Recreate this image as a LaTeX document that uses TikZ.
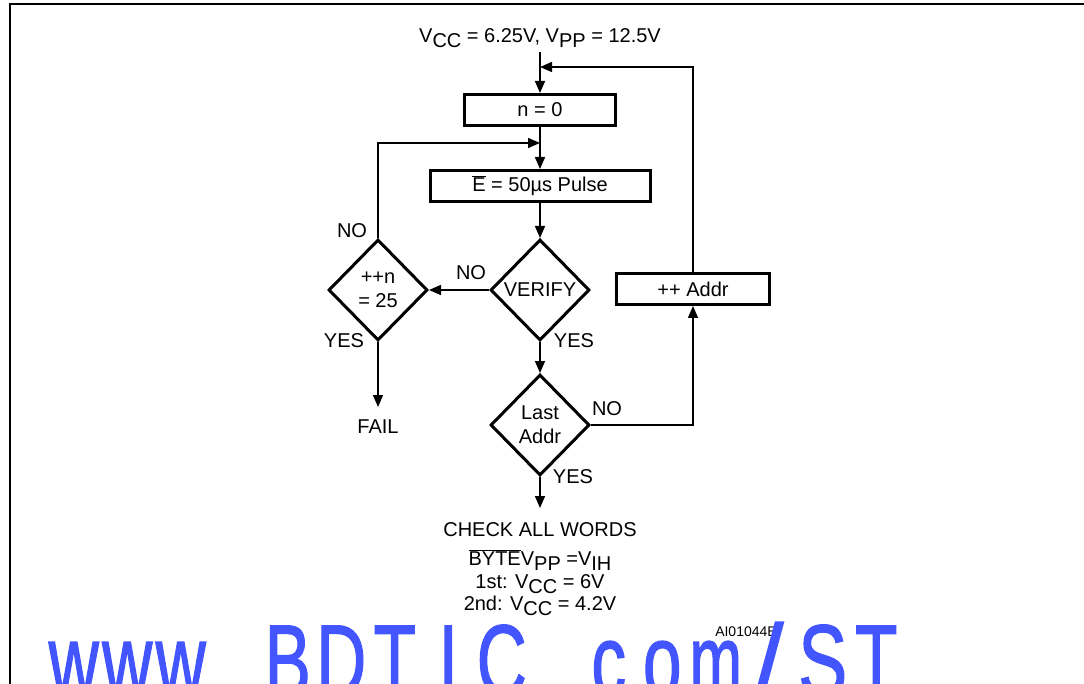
\documentclass[tikz,border=0pt]{standalone}
\usepackage{fontspec}
\setmainfont{Liberation Sans}
\newfontfamily\wmfont[FakeBold=1.5]{Liberation Sans}
\usetikzlibrary{positioning, arrows.meta, shapes.geometric}
\definecolor{cW}{RGB}{66,85,255}
\newcommand{\lo}[1]{\raisebox{-5pt}{#1}}

\begin{document}
\begin{tikzpicture}[x=1pt, y=-1pt,
    font=\fontsize{20}{24}\selectfont,
    box/.style={draw, line width=3pt, minimum height=31pt, inner sep=0pt},
    dia/.style={draw, diamond, line width=3pt, minimum width=99pt, minimum height=101pt, inner sep=0pt, align=center},
    arr/.style={line width=1.5pt, -{Triangle[length=12pt,width=10pt]}},
    lbl/.style={anchor=base, inner sep=0pt}]
    \useasboundingbox (0,0) rectangle (1084,684);
    % Frame
    \draw[line width=2pt] (10,684) -- (10,4) -- (1084,4);

    % Title
    \node[lbl] (vtitle) at (540,43) {V\lo{CC} = 6.25V, V\lo{PP} = 12.5V};
    \coordinate (start) at (540,52);
    \coordinate (mergeA) at (540,67);
    \coordinate (mergeB) at (540,143);

    % Boxes
    \node[box, minimum width=151pt] (nzero) at (540,110) {n = 0};
    \node[box, minimum width=220pt] (pulse) at (540,186) {$\overline{\mbox{E}}$ = 50µs Pulse};
    \node[box, minimum width=153pt] (addr) at (693,289) {++ Addr};

    % Decisions
    \node[dia] (verify) at (540,290) {VERIFY};
    \node[dia] (count) at (378,290) {++n\\= 25};
    \node[dia] (last) at (540,425) {Last\\Addr};

    % Labels
    \node[lbl] (noA) at (352,238) {NO};
    \node[lbl] (noB) at (471,280) {NO};
    \node[lbl] (yesA) at (344,348) {YES};
    \node[lbl] (yesB) at (574,348) {YES};
    \node[lbl] (noC) at (607,415) {NO};
    \node[lbl] (yesC) at (573,483) {YES};
    \node[lbl] (fail) at (378,433) {FAIL};
    \coordinate (failtop) at (378,407);
    \coordinate (checktop) at (540,508);

    % Final notes
    \node[lbl] (check) at (540,536) {CHECK ALL WORDS};
    \node[lbl] (bytes) at (540,565) {$\overline{\mbox{BYTE}}$V\lo{PP} =V\lo{IH}};
    \node[lbl] (first) at (540,588) {1st: V\lo{CC} = 6V};
    \node[lbl] (second) at (540,610) {2nd: V\lo{CC} = 4.2V};
    \node[lbl, font=\fontsize{14}{16}\selectfont] (figid) at (746,636) {AI01044B};

    % Connectors
    \draw[arr] (start) -- (nzero);
    \draw[arr] (addr.north) |- (mergeA);
    \draw[arr] (nzero) -- (pulse);
    \draw[arr] (count.north) |- (mergeB);
    \draw[arr] (pulse) -- (verify);
    \draw[arr] (verify) -- (count);
    \draw[arr] (verify) -- (last);
    \draw[arr] (count.south) -- (failtop);
    \draw[arr] (last.east) -| (addr.south);
    \draw[arr] (last.south) -- (checktop);

    % Watermark
    \foreach \c/\k [count=\i from 0] in {w/.68, w/.68, w/.68, ./.68, B/.68, D/.68, T/.68, I/.68, C/.68, ./.68, c/.68, o/.68, m/.62, \slash/1, S/.72, T/.68}
        \node[lbl, text=cW, font=\wmfont\fontsize{102}{102}\selectfont] (wm\i) at (73.75+\i*53.5,696) {\scalebox{\k}[1]{\c}};
\end{tikzpicture}
\end{document}
